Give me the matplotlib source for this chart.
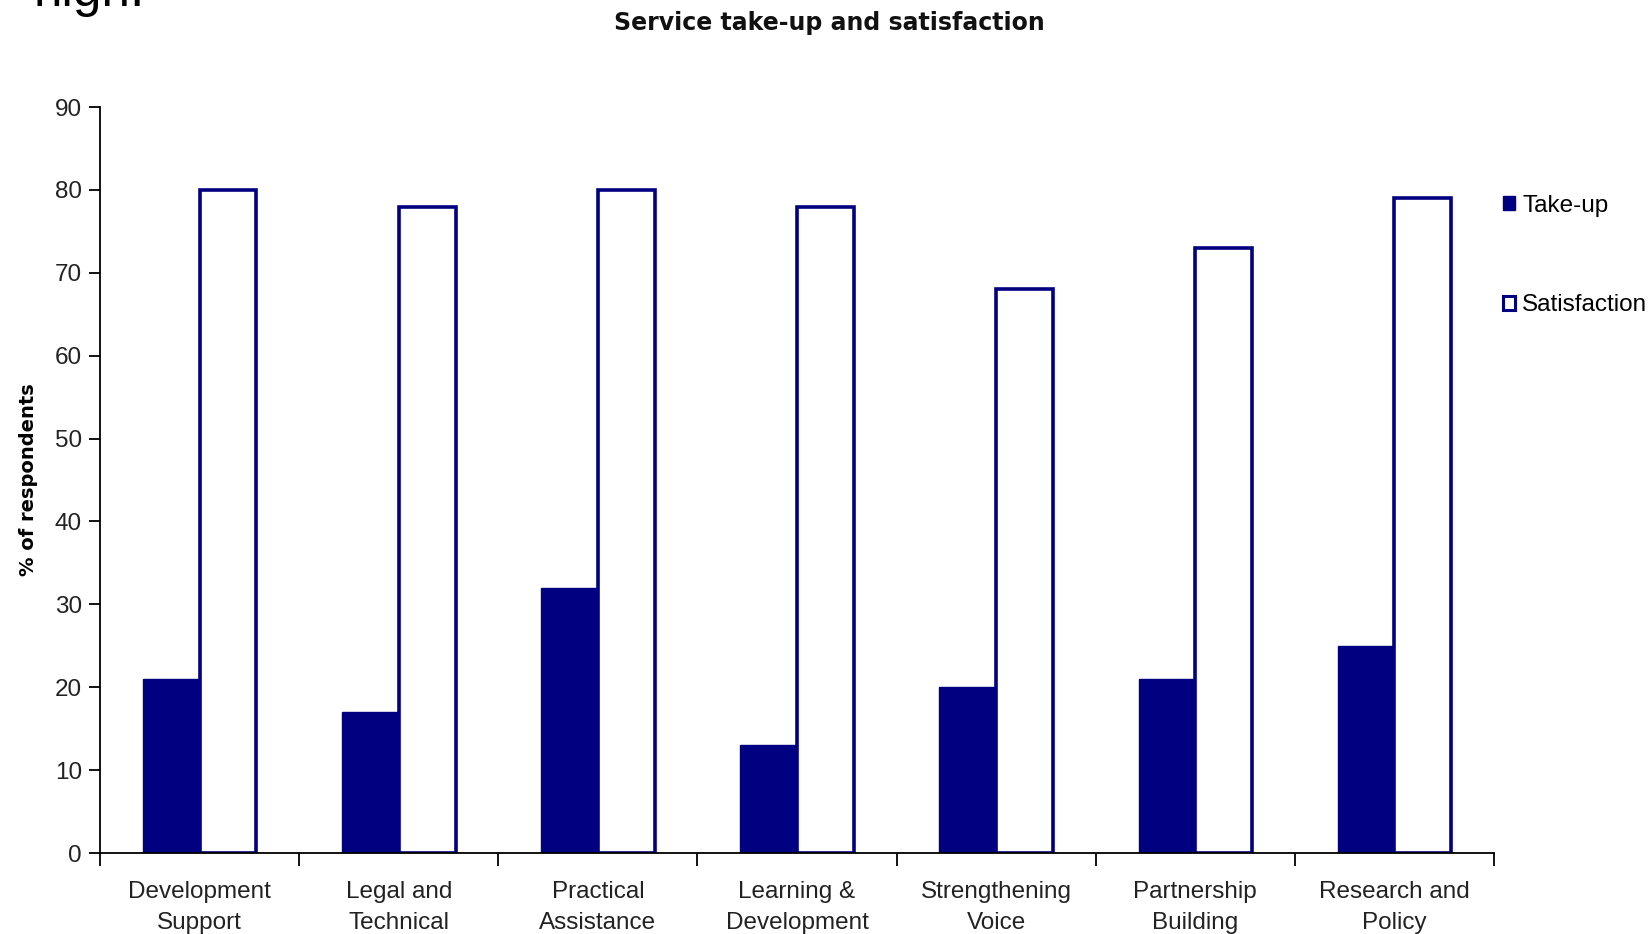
import numpy as np
from matplotlib import pyplot as plt
from matplotlib.patches import Patch

categories = ['Development\nSupport', 'Legal and\nTechnical', 'Practical\nAssistance',
              'Learning &\nDevelopment', 'Strengthening\nVoice', 'Partnership\nBuilding',
              'Research and\nPolicy']
take_up = [21, 17, 32, 13, 20, 21, 25]
satisfaction = [80, 78, 80, 78, 68, 73, 79]
y_ticks = [0, 10, 20, 30, 40, 50, 60, 70, 80, 90]

navy = '#000080'
label_font = 'Liberation Sans'
label_size = 17.5

fig = plt.figure(figsize=(16.51, 9.34), dpi=100)
ax = fig.add_axes([0.0606, 0.0867, 0.8443, 0.7987])

x = np.arange(len(categories))
w = 0.285
ax.bar(x - w / 2, take_up, w, color=navy, edgecolor=navy, linewidth=1, label='Take-up')
ax.bar(x + w / 2, satisfaction, w, color='white', edgecolor=navy, linewidth=2.6,
       label='Satisfaction')

ax.set_xlim(-0.5, len(categories) - 0.5)
ax.set_ylim(0, 90)
ax.set_yticks(y_ticks)
ax.set_yticklabels([str(v) for v in y_ticks], fontsize=label_size, family=label_font,
                   color='#222222')

# category names sit between the boundary ticks
ax.set_xticks(np.arange(len(categories) + 1) - 0.5)
ax.set_xticklabels([])
ax.set_xticks(x, minor=True)
ax.set_xticklabels(categories, minor=True, fontsize=label_size, family=label_font,
                   color='#222222', linespacing=1.55)
ax.tick_params(axis='x', which='minor', length=0, pad=20)
ax.tick_params(axis='x', which='major', length=9, width=1.3, direction='out')
ax.tick_params(axis='y', length=8, width=1.3, direction='out', pad=5)

for side in ['top', 'right']:
    ax.spines[side].set_visible(False)
for side in ['left', 'bottom']:
    ax.spines[side].set_linewidth(1.3)

ax.set_ylabel('% of respondents', fontsize=14, fontweight='bold', labelpad=12)
fig.text(0.5025, 0.975, 'Service take-up and satisfaction', ha='center', va='center',
         fontsize=17, fontweight='bold', color='#111111')

handles = [Patch(facecolor=navy, edgecolor=navy, linewidth=1),
           Patch(facecolor='white', edgecolor=navy, linewidth=2.2)]
fig.legend(handles, ['Take-up', 'Satisfaction'], loc='upper left',
           bbox_to_anchor=(0.897, 0.815), frameon=False,
           prop={'family': label_font, 'size': label_size}, handlelength=0.5,
           handleheight=0.5, handletextpad=0.3, labelspacing=3.2)

# leftover slide text clipped at the top edge
fig.text(33 / 1651, 1 - 6 / 934, 'high.', ha='left', va='baseline', fontsize=37,
         family=label_font, color='black')

fig.savefig('out.png', dpi=100, facecolor='white')
